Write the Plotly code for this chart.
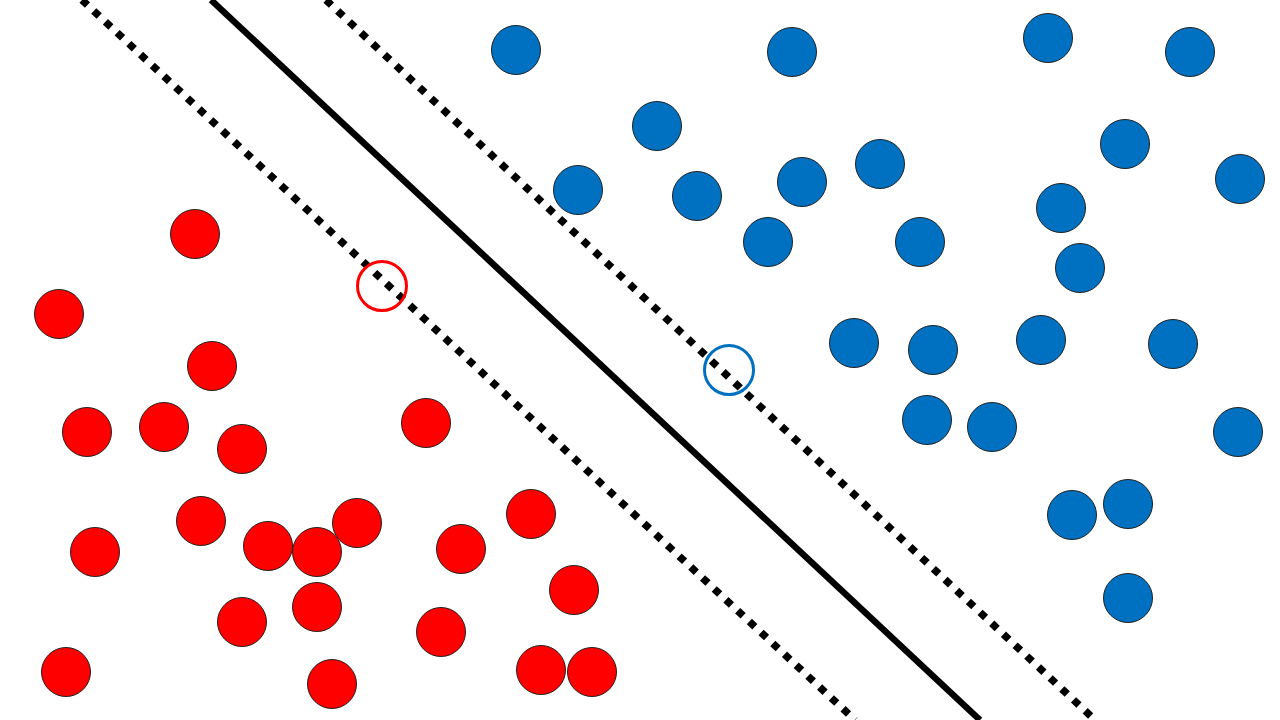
import plotly.graph_objects as go

# Class A (red) points, pixel-space coordinates
red_x = [195, 59, 212, 87, 164, 242, 426, 201, 95, 268, 317, 357, 461, 531, 242, 317, 574, 441, 66, 332, 541, 592]
red_y = [234, 314, 366, 432, 427, 449, 423, 521, 552, 546, 552, 523, 549, 514, 622, 607, 590, 632, 672, 684, 670, 672]

# Class B (blue) points
blue_x = [516, 792, 1048, 1190, 657, 1125, 578, 697, 802, 880, 1240, 768, 920, 1061, 1080,
          854, 933, 1041, 1173, 927, 992, 1238, 1072, 1128, 1128]
blue_y = [50, 52, 38, 52, 126, 144, 190, 196, 182, 164, 179, 242, 242, 208, 268,
          343, 350, 340, 344, 420, 427, 432, 515, 504, 598]

# Support vectors (hollow)
sv_red_x, sv_red_y = [382], [286]
sv_blue_x, sv_blue_y = [729], [370]

# Decision boundary and margins (endpoints)
solid_x, solid_y = [211, 980], [0, 720]
margin_lo_x, margin_lo_y = [82, 855], [0, 720]
margin_hi_x, margin_hi_y = [326, 1095], [0, 720]

RED = "#FF0000"
BLUE = "#0070C0"

fig = go.Figure()

for mx, my in [(margin_lo_x, margin_lo_y), (margin_hi_x, margin_hi_y)]:
    fig.add_trace(go.Scatter(x=mx, y=my, mode="lines",
                             line=dict(color="black", width=7.5, dash="7.5px,8.5px"),
                             hoverinfo="skip"))
fig.add_trace(go.Scatter(x=solid_x, y=solid_y, mode="lines",
                         line=dict(color="black", width=6.5), hoverinfo="skip"))

fig.add_trace(go.Scatter(x=red_x, y=red_y, mode="markers",
                         marker=dict(size=49, color=RED, line=dict(color="#222222", width=1))))
fig.add_trace(go.Scatter(x=blue_x, y=blue_y, mode="markers",
                         marker=dict(size=49, color=BLUE, line=dict(color="#222222", width=1))))
fig.add_trace(go.Scatter(x=sv_red_x, y=sv_red_y, mode="markers",
                         marker=dict(size=49, color="rgba(0,0,0,0)", line=dict(color=RED, width=3))))
fig.add_trace(go.Scatter(x=sv_blue_x, y=sv_blue_y, mode="markers",
                         marker=dict(size=49, color="rgba(0,0,0,0)", line=dict(color=BLUE, width=3))))

fig.update_layout(
    width=1280, height=720,
    margin=dict(l=0, r=0, t=0, b=0),
    paper_bgcolor="white", plot_bgcolor="white",
    showlegend=False,
    xaxis=dict(range=[0, 1280], visible=False, fixedrange=True),
    yaxis=dict(range=[720, 0], visible=False, fixedrange=True),
)

fig.write_html("out.html")
